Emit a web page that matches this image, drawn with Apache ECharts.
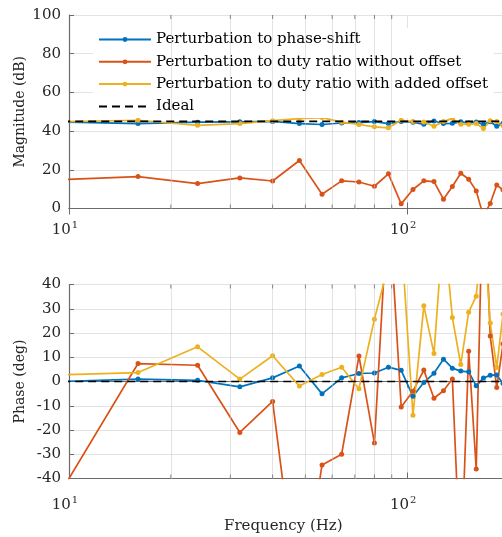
<!DOCTYPE html>
<html><head><meta charset="utf-8">
<script src="https://cdn.jsdelivr.net/npm/echarts@6/dist/echarts.min.js"></script>
<style>html,body{margin:0;padding:0;background:#fff}#c{width:502px;height:537px}</style>
</head><body><div id="c"></div>
<script>
// ---- data ----
const freq = [8,16,24,32,40,48,56,64,72,80,88,96,104,112,120,128,136,144,152,160,168,176,184,192];
const seriesNames = ['Perturbation to phase-shift','Perturbation to duty ratio without offset','Perturbation to duty ratio with added offset','Ideal'];
const magPhaseShift   = [44.9,43.9,44.6,44.8,45.0,43.9,43.4,44.2,44.4,44.9,43.9,45.0,44.6,43.5,45.2,43.9,44.0,44.8,44.2,44.7,43.5,44.8,42.5,44.0];
const magDutyNoOffset = [14.4,16.5,12.9,15.8,14.2,24.8,7.4,14.3,13.7,11.5,17.9,2.4,9.8,14.3,13.9,4.8,11.4,18.2,15.1,9.1,-4.0,2.6,12.1,9.6];
const magDutyOffset   = [44.6,45.6,43.0,43.9,45.4,46.4,47.0,44.6,43.4,42.2,41.7,45.6,44.9,44.7,42.5,44.9,46.6,43.5,43.6,43.9,41.3,45.4,45.0,42.8];
const idealMag = 45;
const phPhaseShift    = [-0.3,1.0,0.5,-2.2,1.5,6.4,-5.1,1.5,3.3,3.5,5.9,4.6,-6.1,-0.4,3.4,9.2,5.5,4.3,4.0,-1.8,1.4,2.6,2.7,-0.8];
const phDutyNoOffset  = [-62.5,7.4,6.7,-21.0,-8.2,-95,-34.4,-30.0,10.5,-25.4,77,-10.5,-4.0,4.7,-6.9,-3.8,1.0,-80,12.5,-36.1,90,18.8,-2.5,15.5];
const phDutyOffset    = [2.5,3.7,14.3,1.0,10.6,-1.9,2.9,5.9,-3.0,25.7,48,60,-13.9,31.2,11.5,65,26.4,7.0,28.6,35.2,67,24.1,5.8,27.8];
const idealPhase = 0;
const idealFreq = [8,200];
const freqRange = [10,200];
const magRange = [0,100], magStep = 20;
const phRange = [-40,40], phStep = 10;
const minorFreqs = [20,30,40,50,60,70,80,90,200];

// ---- styles ----
const colors = ['#0072BD','#D95319','#EDB120','#000000'];
const FONT = 'DejaVu Serif';
const AX = '#6b6b6b';
const pair = (xs, ys) => xs.map((x,i)=>[x, ys[i]]);
const supLabel = v => {
  const l = Math.log10(v), e = Math.round(l);
  if (Math.abs(l - e) > 1e-6) return '';
  return '{b|10}{s|' + e + '}';
};

function xAxes(grid, labelMargin){
  return [{
    type:'log', logBase:10, gridIndex:grid, min:freqRange[0], max:freqRange[1],
    axisLine:{show:true, onZero:false, lineStyle:{color:AX, width:1.2}},
    axisTick:{show:true, inside:true, length:6, lineStyle:{color:AX}},
    axisLabel:{show:true, margin:labelMargin, formatter:supLabel, padding:[0,8,0,0], color:'#262626',
      showMaxLabel:false,
      rich:{b:{fontFamily:FONT, fontSize:15, color:'#262626'}, s:{fontFamily:FONT, fontSize:10, color:'#262626', padding:[0,0,9,1]}}},
    splitLine:{show:true, lineStyle:{color:'#e3e3e3', width:1}},
    minorTick:{show:false}
  },{
    type:'log', logBase:10, gridIndex:grid, position:'top', min:freqRange[0], max:freqRange[1],
    axisLine:{show:true, lineStyle:{color:AX, width:1.2}},
    axisTick:{show:true, inside:true, length:6, lineStyle:{color:AX}},
    axisLabel:{show:false}, splitLine:{show:false}
  }];
}
function yAxis(grid, range, step, name){
  return {
    type:'value', gridIndex:grid, min:range[0], max:range[1], interval:step,
    name:name, nameLocation:'middle', nameGap:42, nameRotate:90, nameMoveOverlap:false,
    nameTextStyle:{fontFamily:FONT, fontSize:14, color:'#262626'},
    axisLine:{show:true, lineStyle:{color:AX, width:1.2}},
    axisTick:{show:true, inside:true, length:5, lineStyle:{color:AX}},
    axisLabel:{fontFamily:FONT, fontSize:15, color:'#262626', margin:8},
    splitLine:{show:true, lineStyle:{color:'#e3e3e3', width:1}}
  };
}
function lineSeries(name, xi, yi, data, color, dashed){
  return {
    name:name, type:'line', xAxisIndex:xi, yAxisIndex:yi, data:data,
    showSymbol:!dashed, symbol:dashed?'none':'circle', symbolSize:5,
    lineStyle:{color:color, width:1.7, type:dashed?[8,5]:'solid'},
    itemStyle:{color:color}, clip:true, animation:false, z: dashed?5:3
  };
}
function minorGrid(xi, yi, yr){
  return [{
    type:'line', xAxisIndex:xi, yAxisIndex:yi, data:[], silent:true, animation:false,
    markLine:{silent:true, symbol:'none', label:{show:false},
      lineStyle:{type:'dotted', color:'#c8c8c8', width:1},
      data:minorFreqs.map(f=>({xAxis:f}))}, z:1
  },{
    type:'scatter', xAxisIndex:xi, yAxisIndex:yi, silent:true, animation:false,
    data:minorFreqs.map(f=>[f, yr[0]]), symbol:'rect', symbolSize:[1,4], symbolOffset:[0,-2],
    itemStyle:{color:AX}, z:6
  },{
    type:'scatter', xAxisIndex:xi, yAxisIndex:yi, silent:true, animation:false,
    data:minorFreqs.map(f=>[f, yr[1]]), symbol:'rect', symbolSize:[1,4], symbolOffset:[0,2],
    itemStyle:{color:AX}, z:6
  }];
}

const chart = echarts.init(document.getElementById('c'), null, {renderer:'canvas'});
chart.setOption({
  animation:false,
  backgroundColor:'#fff',
  grid:[
    {left:69, top:15, width:440, height:193.5, containLabel:false, outerBoundsMode:'none'},
    {left:69, top:284.5, width:440, height:194, containLabel:false, outerBoundsMode:'none'}
  ],
  xAxis:[...xAxes(0, 12), ...xAxes(1, 17)],
  yAxis:[yAxis(0, magRange, magStep, 'Magnitude (dB)'), yAxis(1, phRange, phStep, 'Phase (deg)')],
  legend:{
    show:true, orient:'vertical', left:93, top:28, padding:[4,6,4,5],
    backgroundColor:'#fff', itemWidth:52, itemHeight:6, itemGap:7.3,
    textStyle:{fontFamily:FONT, fontSize:15, color:'#000', lineHeight:14},
    data:[seriesNames[0], seriesNames[1], seriesNames[2], {name:seriesNames[3], itemStyle:{opacity:0}}],
    selectedMode:false
  },
  graphic:[{type:'text', left:224, top:519, style:{text:'Frequency (Hz)', font:'15px "DejaVu Serif"', fill:'#262626'}}],
  series:[
    ...minorGrid(0,0,magRange),
    ...minorGrid(2,1,phRange),
    lineSeries(seriesNames[0],0,0,pair(freq,magPhaseShift),colors[0]),
    lineSeries(seriesNames[1],0,0,pair(freq,magDutyNoOffset),colors[1]),
    lineSeries(seriesNames[2],0,0,pair(freq,magDutyOffset),colors[2]),
    lineSeries(seriesNames[3],0,0,idealFreq.map(f=>[f,idealMag]),colors[3],true),
    lineSeries(seriesNames[0],2,1,pair(freq,phPhaseShift),colors[0]),
    lineSeries(seriesNames[1],2,1,pair(freq,phDutyNoOffset),colors[1]),
    lineSeries(seriesNames[2],2,1,pair(freq,phDutyOffset),colors[2]),
    lineSeries(seriesNames[3],2,1,idealFreq.map(f=>[f,idealPhase]),colors[3],true)
  ]
});
</script></body></html>
